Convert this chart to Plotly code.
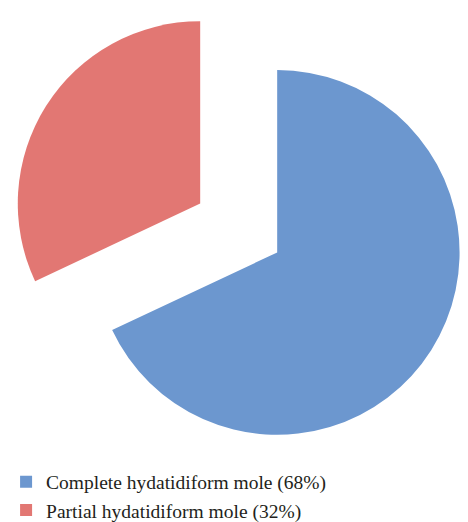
import plotly.graph_objects as go

labels = ["Complete hydatidiform mole (68%)", "Partial hydatidiform mole (32%)"]
values = [68, 32]
colors = ["#6C97CF", "#E27773"]
pulls = [0.25, 0.25]

fig = go.Figure(go.Pie(
    labels=labels,
    values=values,
    marker=dict(colors=colors, line=dict(width=0)),
    pull=pulls,
    sort=False,
    direction="clockwise",
    rotation=0,
    textinfo="none",
    domain=dict(x=[0.02, 1], y=[0, 1]),
))

fig.update_layout(
    width=468,
    height=522,
    margin=dict(l=0, r=0, t=0, b=66),
    paper_bgcolor="white",
    plot_bgcolor="white",
    showlegend=True,
    legend=dict(
        xref="paper", x=0.013, xanchor="left",
        yref="container", y=0.114, yanchor="top",
        font=dict(family="Liberation Serif", size=19.5, color="#231F20"),
        bgcolor="rgba(0,0,0,0)",
        tracegroupgap=0,
    ),
)

fig.write_html("out.html")
